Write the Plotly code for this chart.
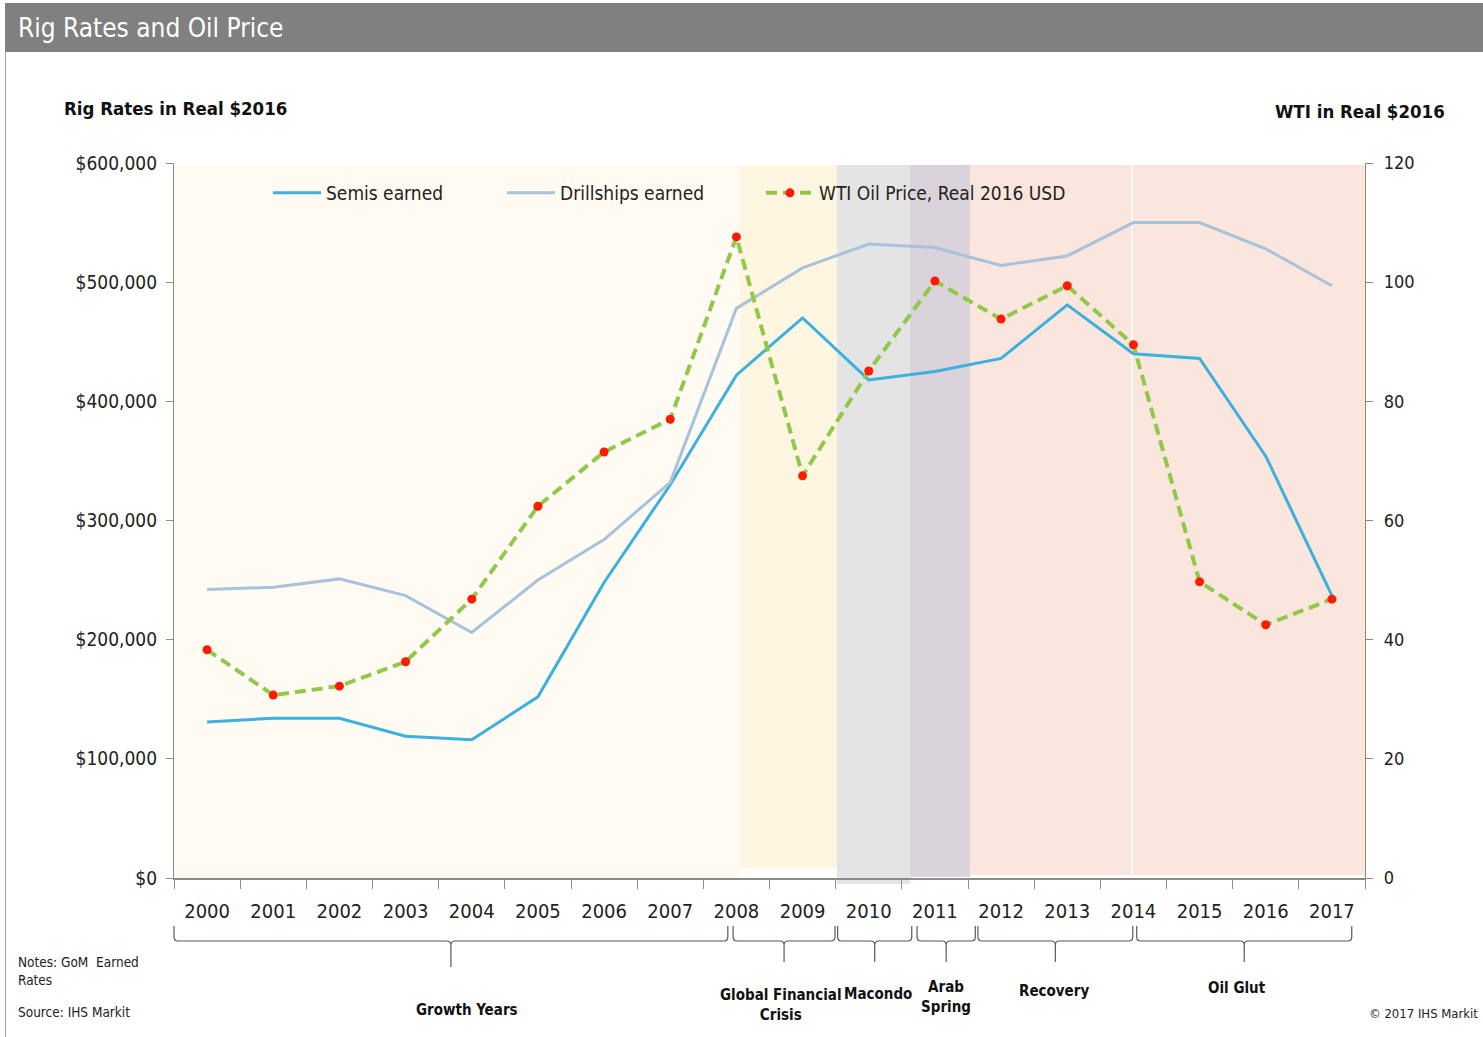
import plotly.graph_objects as go

# ---- data -------------------------------------------------------------
years = [str(y) for y in range(2000, 2018)]
semis_earned = [131000, 134000, 134000, 119000, 116000, 152000, 248000, 330000, 422000,
                470000, 418000, 425000, 436000, 481000, 440000, 436000, 354000, 237000]
drillships_earned = [242000, 244000, 251000, 237000, 206000, 250000, 284000, 332000, 478000,
                     512000, 532000, 529000, 514000, 522000, 550000, 550000, 528000, 497000]
wti_price = [38.3, 30.7, 32.2, 36.3, 46.8, 62.4, 71.5, 77.0, 107.6,
             67.5, 85.1, 100.2, 93.8, 99.4, 89.5, 49.7, 42.5, 46.8]
rate_ticks = [0, 100000, 200000, 300000, 400000, 500000, 600000]
wti_ticks = [0, 20, 40, 60, 80, 100, 120]

period_names = ["Growth Years", "Global Financial<br>Crisis", "Macondo", "Arab<br>Spring",
                "Recovery", "Oil Glut"]
# shaded period spans, in category-index units
period_bands = [(-0.5, 8.05), (8.05, 9.52), (9.52, 10.62), (10.62, 11.53), (11.53, 13.98), (13.98, 17.5)]
# bracket spans under the axis, in category-index units
period_brackets = [(-0.5, 7.87), (7.95, 9.49), (9.53, 10.65), (10.73, 11.61), (11.65, 13.99), (14.05, 17.30)]
band_colors = ["#FFFBF2", "#FEF6E1", "#E4E4E4", "#DAD3DC", "#FBE6DD", "#FBE6DD"]

# ---- figure geometry ----------------------------------------------------
W, H = 1483, 1037
L, R, T, B = 174, 1365, 163, 878
NCAT = len(years)


def px(xp):
    return (xp - L) / (R - L)


def py(yp):
    return (B - yp) / (B - T)


def cat2paper(i):
    return (i + 0.5) / NCAT


NARROW = "DejaVu Sans Condensed, Liberation Sans Narrow, Arial Narrow, Liberation Sans, sans-serif"

fig = go.Figure()

fig.add_trace(go.Scatter(
    x=years, y=semis_earned, name="Semis earned", mode="lines",
    line=dict(color="#3CB0DE", width=3), legend="legend", showlegend=True))
fig.add_trace(go.Scatter(
    x=years, y=drillships_earned, name="Drillships earned", mode="lines",
    line=dict(color="#A8C2DB", width=3), legend="legend2", showlegend=True))
fig.add_trace(go.Scatter(
    x=years, y=wti_price, name="WTI Oil Price, Real 2016 USD", mode="lines+markers",
    line=dict(color="#92C84A", width=4, dash="11px,6px"),
    marker=dict(color="#FF1A00", size=9), yaxis="y2", legend="legend3", showlegend=True))

shapes = []
# background period bands
band_bottoms = [878, 868, 884, 877, 875, 875]
for (a, b), c, yb in zip(period_bands, band_colors, band_bottoms):
    shapes.append(dict(type="rect", xref="paper", yref="paper", layer="below",
                       x0=cat2paper(a), x1=cat2paper(b), y0=py(yb), y1=py(165),
                       fillcolor=c, line=dict(width=0)))
# thin divider between Recovery and Oil Glut
shapes.append(dict(type="line", xref="paper", yref="paper", layer="below",
                   x0=cat2paper(13.98), x1=cat2paper(13.98), y0=py(875), y1=py(165),
                   line=dict(color="white", width=1.5)))

# title bar and outer frame
shapes.append(dict(type="rect", xref="paper", yref="paper", x0=px(5), x1=px(1483),
                   y0=py(52), y1=py(3), fillcolor="#808080", line=dict(width=0)))
shapes.append(dict(type="line", xref="paper", yref="paper", x0=px(5.5), x1=px(5.5),
                   y0=py(1037), y1=py(52), line=dict(color="#A6A6A6", width=1)))

# curly brackets under the year axis
annotations = []
for k, ((a, b), name) in enumerate(zip(period_brackets, period_names)):
    x0, x1 = cat2paper(a), cat2paper(b)
    xc = (x0 + x1) / 2
    ytop, ymid = py(926), py(941)
    ybot = py(967) if k == 0 else py(962)
    rx, ry = px(L + 4) - px(L), py(0) - py(4)
    path = (f"M {x0},{ytop} L {x0},{ymid + ry} Q {x0},{ymid} {x0 + rx},{ymid} "
            f"L {xc - rx},{ymid} Q {xc},{ymid} {xc},{ymid - ry} L {xc},{ybot} "
            f"M {xc},{ymid - ry} Q {xc},{ymid} {xc + rx},{ymid} "
            f"L {x1 - rx},{ymid} Q {x1},{ymid} {x1},{ymid + ry} L {x1},{ytop}")
    shapes.append(dict(type="path", xref="paper", yref="paper", path=path,
                       line=dict(color="#595959", width=1.2)))

label_pos = [(467, 1010), (781, 1005), (878, 994), (946, 997), (1054, 991), (1237, 988)]
for name, (lx, ly) in zip(period_names, label_pos):
    annotations.append(dict(xref="paper", yref="paper", x=px(lx), y=py(ly), text=f"<b>{name}</b>",
                            showarrow=False, xanchor="center", yanchor="middle",
                            font=dict(family=NARROW, size=15, color="#111111")))

annotations += [
    dict(xref="paper", yref="paper", x=px(16), y=py(28), text="Rig Rates and Oil Price",
         showarrow=False, xanchor="left", yanchor="middle",
         font=dict(family=NARROW, size=26, color="white")),
    dict(xref="paper", yref="paper", x=px(62), y=py(108), text="<b>Rig Rates in Real $2016</b>",
         showarrow=False, xanchor="left", yanchor="middle",
         font=dict(family=NARROW, size=18.5, color="#111111")),
    dict(xref="paper", yref="paper", x=px(1447), y=py(112), text="<b>WTI in Real $2016</b>",
         showarrow=False, xanchor="right", yanchor="middle",
         font=dict(family=NARROW, size=18.5, color="#111111")),
    dict(xref="paper", yref="paper", x=px(16), y=py(971), text="Notes: GoM  Earned<br>Rates",
         showarrow=False, xanchor="left", yanchor="middle", align="left",
         font=dict(family=NARROW, size=13.5, color="#222222")),
    dict(xref="paper", yref="paper", x=px(16), y=py(1012), text="Source: IHS Markit",
         showarrow=False, xanchor="left", yanchor="middle", align="left",
         font=dict(family=NARROW, size=13.5, color="#222222")),
    dict(xref="paper", yref="paper", x=px(1480), y=py(1013), text="© 2017 IHS Markit",
         showarrow=False, xanchor="right", yanchor="middle",
         font=dict(family=NARROW, size=13, color="#222222")),
]

legend_common = dict(orientation="h", xref="paper", yref="paper", yanchor="middle", xanchor="left",
                     bgcolor="rgba(0,0,0,0)", itemwidth=48,
                     font=dict(family=NARROW, size=19, color="#222222"))

fig.update_layout(
    width=W, height=H,
    margin=dict(l=L, r=W - R, t=T, b=H - B, pad=0),
    paper_bgcolor="white", plot_bgcolor="white",
    showlegend=True,
    shapes=shapes, annotations=annotations,
    legend=dict(x=px(268), y=py(193), **legend_common),
    legend2=dict(x=px(502), y=py(193), **legend_common),
    legend3=dict(x=px(761), y=py(193), **legend_common),
    xaxis=dict(type="category", categoryorder="array", categoryarray=years,
               range=[-0.5, NCAT - 0.5], tickson="boundaries", ticks="outside", ticklen=9,
               tickcolor="#8C8C8C", showline=True, linecolor="#8C8C8C", linewidth=1.5,
               showgrid=False, ticklabelstandoff=14,
               tickfont=dict(family=NARROW, size=20, color="#222222")),
    yaxis=dict(range=[0, 600000], tickmode="array", tickvals=rate_ticks,
               ticktext=[f"${v:,}" for v in rate_ticks], ticks="outside", ticklen=7,
               tickcolor="#8C8C8C", showline=True, linecolor="#8C8C8C", linewidth=1.2,
               showgrid=False, zeroline=False, ticklabelstandoff=5,
               tickfont=dict(family=NARROW, size=19, color="#222222")),
    yaxis2=dict(range=[0, 120], tickmode="array", tickvals=wti_ticks, overlaying="y", side="right",
                ticks="outside", ticklen=7, tickcolor="#9C8378", showline=True, linecolor="#9C8378",
                linewidth=1.2, showgrid=False, zeroline=False, ticklabelstandoff=7,
                tickfont=dict(family=NARROW, size=18, color="#222222")),
)

fig.write_html("out.html")
